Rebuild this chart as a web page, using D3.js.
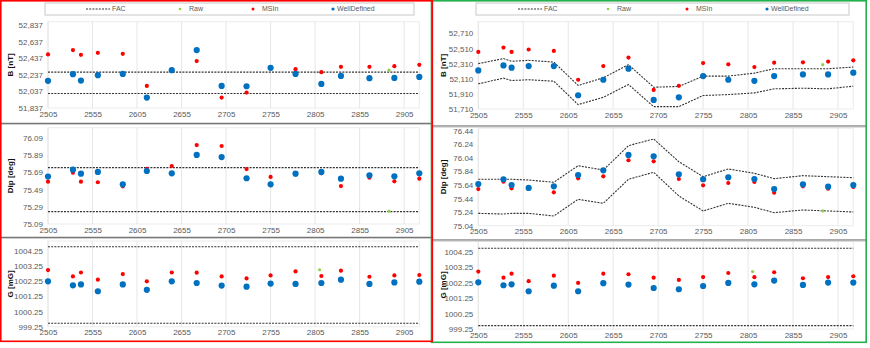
<!DOCTYPE html>
<html>
<head>
<meta charset="utf-8">
<script src="https://cdn.jsdelivr.net/npm/d3@7/dist/d3.min.js"></script>
<style>
    body { margin: 0; background: #fff; }
    svg text { font-family: "Liberation Sans", Arial, sans-serif; }
</style>
</head>
<body>
<svg id="chart" width="870" height="348"></svg>
<script>
// survey station depths (shared by both panels)
var depths = [2505, 2533, 2542, 2561, 2589, 2616, 2644, 2672, 2700, 2728, 2755, 2783, 2812, 2834, 2866, 2894, 2922];
var xTicks = [2505, 2555, 2605, 2655, 2705, 2755, 2805, 2855, 2905];
var legendNames = ["FAC", "Raw", "MSIn", "WellDefined"];

// left panel - fixed FAC band
var leftB_msin = [52483, 52535, 52478, 52502, 52490, 52103, 52293, 52402, 51963, 52023, 52321, 52305, 52269, 52333, 52333, 52341, 52357];
var leftB_well = [52164, 52245, 52168, 52232, 52248, 51963, 52293, 52535, 52103, 52099, 52321, 52248, 52127, 52224, 52196, 52200, 52212];
var leftB_fac = [52269, 52011];
var leftB_raw = [[2888, 52293]];
var leftB_ticks = [51837, 52037, 52237, 52437, 52637, 52837];

var leftDip_msin = [75.58, 75.685, 75.58, 75.574, 75.527, 75.73, 75.762, 76.005, 75.994, 75.727, 75.635, 75.666, 75.677, 75.53, 75.627, 75.585, 75.615];
var leftDip_well = [75.64, 75.72, 75.673, 75.693, 75.55, 75.704, 75.677, 75.89, 75.866, 75.62, 75.55, 75.673, 75.693, 75.615, 75.654, 75.643, 75.677];
var leftDip_fac = [75.743, 75.233];
var leftDip_raw = [[2888, 75.24]];
var leftDip_ticks = [75.09, 75.29, 75.49, 75.69, 75.89, 76.09];

var leftG_msin = [1002.97, 1002.55, 1002.81, 1002.34, 1002.71, 1002.23, 1002.81, 1002.80, 1002.55, 1002.42, 1002.62, 1002.88, 1002.58, 1002.93, 1002.53, 1002.62, 1002.64];
var leftG_well = [1002.23, 1001.97, 1002.03, 1001.58, 1002.03, 1001.67, 1002.23, 1002.12, 1001.95, 1001.88, 1002.08, 1002.06, 1002.12, 1002.34, 1002.06, 1002.16, 1002.21];
var leftG_fac = [1004.5, 999.48];
var leftG_raw = [[2810, 1002.99]];
var G_ticks = [999.25, 1000.25, 1001.25, 1002.25, 1003.25, 1004.25];

// right panel - FAC band follows each station
var rightB_msin = [52465, 52523, 52465, 52497, 52478, 52097, 52278, 52390, 51963, 52017, 52318, 52301, 52265, 52323, 52327, 52337, 52354];
var rightB_well = [52221, 52287, 52257, 52278, 52278, 51892, 52097, 52243, 51830, 51865, 52145, 52097, 52083, 52145, 52167, 52167, 52190];
var rightB_facUp = [52310, 52377, 52341, 52354, 52331, 52021, 52123, 52297, 51998, 52008, 52145, 52145, 52185, 52243, 52243, 52243, 52265];
var rightB_facLo = [52043, 52118, 52087, 52097, 52078, 51768, 51865, 52034, 51741, 51741, 51888, 51901, 51923, 51977, 51985, 51977, 52012];
var rightB_raw = [[2888, 52297]];
var rightB_ticks = [51710, 51910, 52110, 52310, 52510, 52710];

var rightDip_msin = [75.58, 75.689, 75.591, 75.59, 75.532, 75.738, 75.768, 76.004, 75.989, 75.728, 75.635, 75.669, 75.684, 75.526, 75.62, 75.585, 75.61];
var rightDip_well = [75.654, 75.724, 75.64, 75.596, 75.62, 75.787, 75.856, 76.082, 76.063, 75.797, 75.724, 75.753, 75.728, 75.581, 75.65, 75.615, 75.64];
var rightDip_facUp = [75.724, 75.724, 75.724, 75.713, 75.68, 75.924, 75.86, 76.219, 76.318, 75.983, 75.762, 75.876, 75.812, 75.733, 75.777, 75.762, 75.747];
var rightDip_facLo = [75.222, 75.212, 75.222, 75.222, 75.183, 75.429, 75.37, 75.724, 75.827, 75.478, 75.257, 75.37, 75.311, 75.232, 75.271, 75.257, 75.242];
var rightDip_raw = [[2888, 75.257]];
var rightDip_ticks = [75.04, 75.24, 75.44, 75.64, 75.84, 76.04, 76.24, 76.44];

var rightG_msin = [1002.96, 1002.57, 1002.83, 1002.34, 1002.7, 1002.23, 1002.83, 1002.79, 1002.57, 1002.42, 1002.61, 1002.87, 1002.6, 1002.92, 1002.53, 1002.61, 1002.66];
var rightG_well = [1002.27, 1002.08, 1002.14, 1001.69, 1002.05, 1001.69, 1002.21, 1002.12, 1001.9, 1001.82, 1002.03, 1002.23, 1002.14, 1002.38, 1002.1, 1002.25, 1002.25];
var rightG_fac = [1004.47, 999.47];
var rightG_raw = [[2810, 1002.96]];

var RED = "#ff0000";
var BLUE = "#0070c0";
var GREEN = "#92d050";
var LABEL_COLOR = "#595959";

var svg = d3.select("#chart");

function drawPlot(o) {
    var x = d3.scaleLinear().domain([2505, 2922]).range([o.left, o.right]);
    var y = d3.scaleLinear().domain([o.ticks[0], o.max]).range([o.bottom, o.top]);
    var g = svg.append("g");

    g.append("rect").attr("x", o.left).attr("y", o.top)
        .attr("width", o.right - o.left).attr("height", o.bottom - o.top)
        .attr("fill", "none").attr("stroke", "#ececec");

    // vertical grid only
    g.selectAll(".vg").data(xTicks).enter().append("line")
        .attr("x1", x).attr("x2", x).attr("y1", o.top).attr("y2", o.bottom)
        .attr("stroke", "#e6e6e6").attr("stroke-width", 1);

    var yAxis = d3.axisLeft(y).tickValues(o.ticks).tickSize(0).tickPadding(5).tickFormat(o.fmt);
    var ya = g.append("g").attr("transform", "translate(" + o.left + ",0)").call(yAxis);
    ya.select(".domain").remove();
    ya.selectAll("text").attr("fill", LABEL_COLOR).attr("font-size", "8px");

    var xAxis = d3.axisBottom(x).tickValues(xTicks).tickSize(0).tickPadding(3).tickFormat(d3.format("d"));
    var xa = g.append("g").attr("transform", "translate(0," + o.bottom + ")").call(xAxis);
    xa.select(".domain").remove();
    xa.selectAll("text").attr("fill", LABEL_COLOR).attr("font-size", "8px");

    g.append("text").attr("transform", "translate(" + o.titleX + "," + ((o.top + o.bottom) / 2) + ") rotate(-90)")
        .attr("text-anchor", "middle").attr("dy", "0.35em")
        .attr("font-size", "8px").attr("font-weight", "bold").attr("fill", "#111")
        .text(o.title);

    // FAC limits
    var line = d3.line().x(function (d) { return x(d[0]); }).y(function (d) { return y(d[1]); });
    o.fac.forEach(function (f) {
        var pts = Array.isArray(f) ? depths.map(function (d, i) { return [d, f[i]]; }) : [[2505, f], [2922, f]];
        g.append("path").datum(pts).attr("d", line).attr("fill", "none")
            .attr("stroke", "#333").attr("stroke-width", 1.1).attr("stroke-dasharray", "2,1.2");
    });

    g.selectAll(".raw").data(o.raw).enter().append("circle")
        .attr("cx", function (d) { return x(d[0]); }).attr("cy", function (d) { return y(d[1]); })
        .attr("r", 1.6).attr("fill", GREEN);

    g.selectAll(".msin").data(o.msin).enter().append("circle")
        .attr("cx", function (d, i) { return x(depths[i]); }).attr("cy", function (d) { return y(d); })
        .attr("r", 2.1).attr("fill", RED);

    g.selectAll(".well").data(o.well).enter().append("circle")
        .attr("cx", function (d, i) { return x(depths[i]); }).attr("cy", function (d) { return y(d); })
        .attr("r", 3.1).attr("fill", BLUE);
}

function drawLegend(x0, x1, items) {
    var g = svg.append("g");
    g.append("rect").attr("x", x0).attr("y", 3).attr("width", x1 - x0).attr("height", 12)
        .attr("fill", "#fff").attr("stroke", "#c8c8c8");
    var cy = 9;
    g.append("line").attr("x1", items[0]).attr("x2", items[0] + 24).attr("y1", cy).attr("y2", cy)
        .attr("stroke", "#333").attr("stroke-width", 1).attr("stroke-dasharray", "2,1.2");
    g.append("text").attr("x", items[0] + 26).attr("y", cy).attr("dy", "0.35em")
        .attr("font-size", "7px").attr("fill", LABEL_COLOR).text(legendNames[0]);
    var cols = [GREEN, RED, BLUE];
    var rs = [1.3, 1.5, 1.6];
    for (var i = 1; i < 4; i++) {
        g.append("circle").attr("cx", items[i]).attr("cy", cy).attr("r", rs[i - 1]).attr("fill", cols[i - 1]);
        g.append("text").attr("x", items[i] + (i == 3 ? 4 : 9)).attr("y", cy).attr("dy", "0.35em")
            .attr("font-size", "7px").attr("fill", LABEL_COLOR).text(legendNames[i]);
    }
}

var fmtB = d3.format(",d");
var fmt2 = d3.format(".2f");

// left panel
drawLegend(45, 414, [86, 180, 253, 333]);
drawPlot({left: 48, right: 419.3, top: 21.7, bottom: 108, max: 52877, ticks: leftB_ticks, fmt: fmtB,
    title: "B [nT]", titleX: 10, msin: leftB_msin, well: leftB_well, fac: leftB_fac, raw: leftB_raw});
drawPlot({left: 48, right: 419.3, top: 127.7, bottom: 224, max: 76.206, ticks: leftDip_ticks, fmt: fmt2,
    title: "Dip [deg]", titleX: 10, msin: leftDip_msin, well: leftDip_well, fac: leftDip_fac, raw: leftDip_raw});
drawPlot({left: 48, right: 419.3, top: 241, bottom: 326.7, max: 1004.88, ticks: G_ticks, fmt: fmt2,
    title: "G [mG]", titleX: 10, msin: leftG_msin, well: leftG_well, fac: leftG_fac, raw: leftG_raw});

// right panel
drawLegend(476, 849, [518, 608, 687, 767]);
drawPlot({left: 478.3, right: 853.3, top: 21.7, bottom: 109, max: 52865, ticks: rightB_ticks, fmt: fmtB,
    title: "B [nT]", titleX: 443, msin: rightB_msin, well: rightB_well, fac: [rightB_facUp, rightB_facLo], raw: rightB_raw});
drawPlot({left: 478.3, right: 853.3, top: 128.3, bottom: 225.7, max: 76.475, ticks: rightDip_ticks, fmt: fmt2,
    title: "Dip [deg]", titleX: 443, msin: rightDip_msin, well: rightDip_well, fac: [rightDip_facUp, rightDip_facLo], raw: rightDip_raw});
drawPlot({left: 478.3, right: 853.3, top: 241, bottom: 329, max: 1004.94, ticks: G_ticks, fmt: fmt2,
    title: "G [mG]", titleX: 443, msin: rightG_msin, well: rightG_well, fac: rightG_fac, raw: rightG_raw});

// separators between the stacked plots
[[0, 432, 123.3], [0, 432, 237.3], [433, 866, 126], [433, 866, 240]].forEach(function (s) {
    svg.append("line").attr("x1", s[0]).attr("x2", s[1]).attr("y1", s[2]).attr("y2", s[2])
        .attr("stroke", "#555").attr("stroke-width", 1);
    svg.append("line").attr("x1", s[0]).attr("x2", s[1]).attr("y1", s[2] + 1.2).attr("y2", s[2] + 1.2)
        .attr("stroke", "#cfcfcf").attr("stroke-width", 1);
});

// outer frames
svg.append("rect").attr("x", 431.5).attr("y", 0.8).attr("width", 434.7).attr("height", 341.5)
    .attr("fill", "none").attr("stroke", "#22b14c").attr("stroke-width", 1.6);
svg.append("rect").attr("x", 0.8).attr("y", 0.8).attr("width", 431.5).attr("height", 340.5)
    .attr("fill", "none").attr("stroke", RED).attr("stroke-width", 1.6);
</script>
</body>
</html>
